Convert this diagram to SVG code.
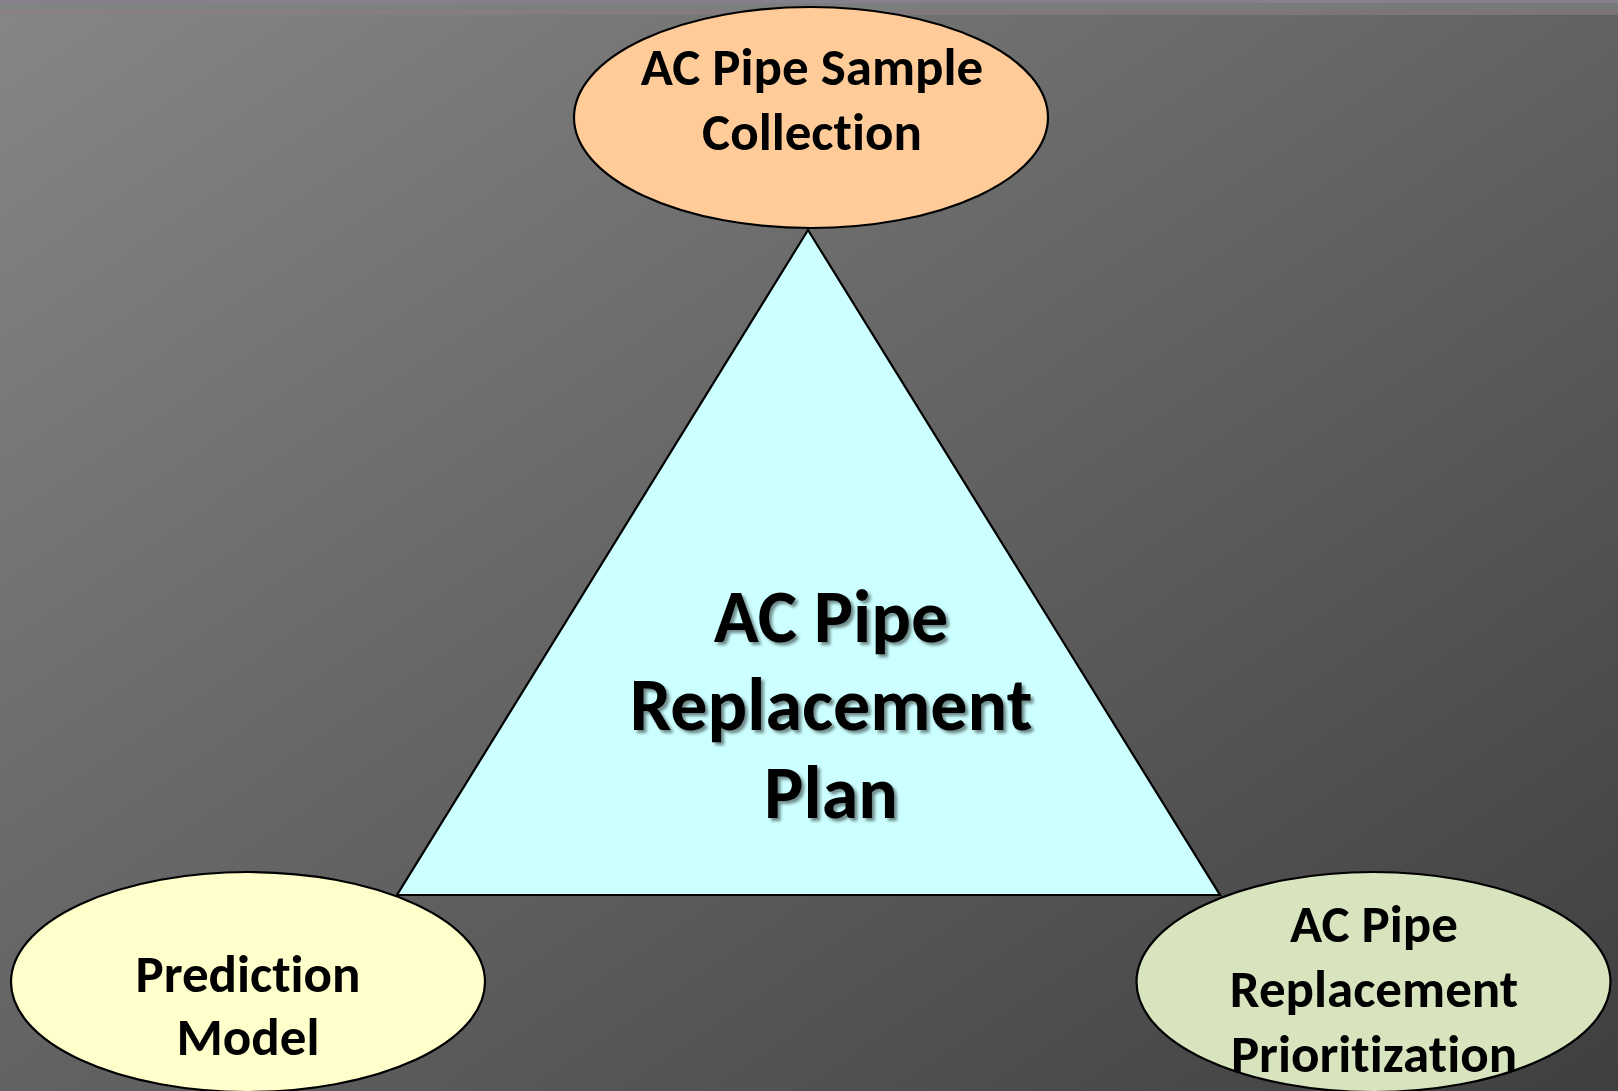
<svg xmlns="http://www.w3.org/2000/svg" width="1618" height="1091" viewBox="0 0 1618 1091">
<defs>
<linearGradient id="bg" x1="0" y1="0" x2="1" y2="1">
<stop offset="0" stop-color="#868686"/>
<stop offset="1" stop-color="#3f3f3f"/>
</linearGradient>
<filter id="sh" x="-10%" y="-10%" width="130%" height="130%">
<feDropShadow dx="3" dy="3" stdDeviation="1.5" flood-color="#000" flood-opacity="0.45"/>
</filter>
</defs>
<style>
.n{stroke:#000;stroke-width:2.2}
.t{font-family:Carlito,Lato,"Open Sans",sans-serif;font-weight:900;fill:#000;text-anchor:middle;font-variant-ligatures:none}
.s{font-size:53px}
.c{font-size:74px}
</style>
<rect width="1618" height="1091" fill="url(#bg)"/>
<rect width="1618" height="3" fill="#84808e"/>
<rect y="3" width="1618" height="7" fill="#7e857f" opacity="0.7"/>
<rect y="10" width="1618" height="5" fill="#8a7f88" opacity="0.6"/>
<g id="connectors"/>
<g id="plan">
<polygon class="n" points="808,230 397,895 1220,895" fill="#CCFFFF"/>
<g class="t c" filter="url(#sh)">
<text x="831" y="642">AC Pipe</text>
<text x="831" y="730">Replacement</text>
<text x="831" y="818">Plan</text>
</g>
</g>
<g id="sample">
<ellipse class="n" cx="811" cy="117.5" rx="237" ry="110.5" fill="#FFCC99"/>
<text class="t s" x="812" y="85">AC Pipe Sample</text>
<text class="t s" x="812" y="150">Collection</text>
</g>
<g id="prediction">
<ellipse class="n" cx="248" cy="982" rx="237" ry="110" fill="#FFFFCC"/>
<text class="t s" x="248" y="992">Prediction</text>
<text class="t s" x="248" y="1055">Model</text>
</g>
<g id="prioritization">
<ellipse class="n" cx="1373.5" cy="982" rx="237" ry="110" fill="#D7E4BD"/>
<text class="t s" x="1374" y="942">AC Pipe</text>
<text class="t s" x="1374" y="1007">Replacement</text>
<text class="t s" x="1374" y="1072">Prioritization</text>
</g>
</svg>
